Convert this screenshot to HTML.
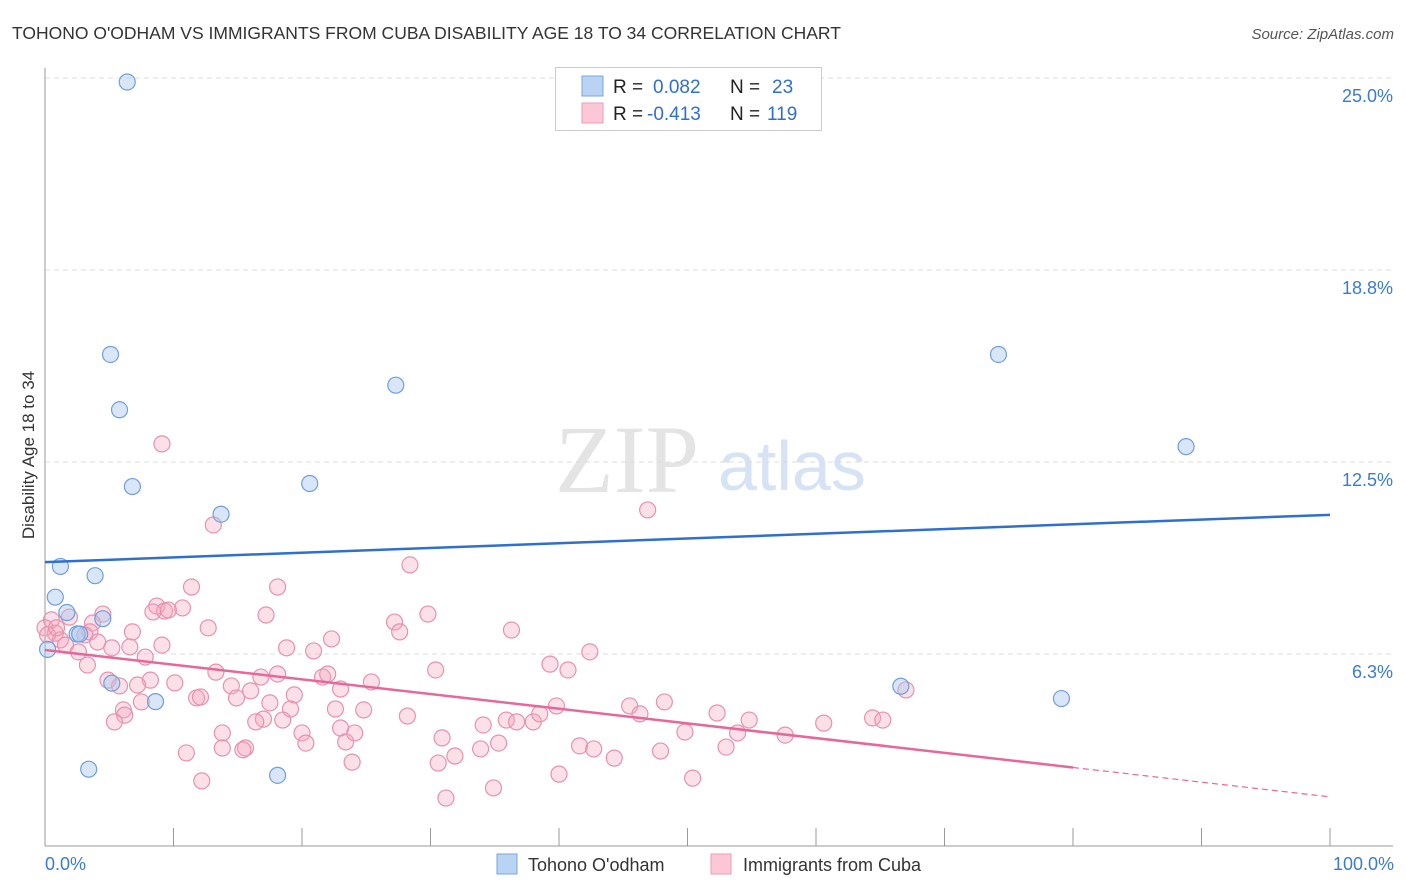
<!DOCTYPE html>
<html><head><meta charset="utf-8"><style>
body{margin:0;background:#fff;font-family:"Liberation Sans",sans-serif;}
svg{display:block}
</style></head><body>
<svg id="chart" width="1406" height="892" viewBox="0 0 1406 892" xmlns="http://www.w3.org/2000/svg">
<text x="12" y="39" font-size="17.5" fill="#333">TOHONO O'ODHAM VS IMMIGRANTS FROM CUBA DISABILITY AGE 18 TO 34 CORRELATION CHART</text>
<text x="1394" y="39" font-size="15" fill="#555" font-style="italic" text-anchor="end">Source: ZipAtlas.com</text>
<g>
<text x="555" y="492" font-size="96" font-family="Liberation Serif,serif" fill="#e4e4e4">ZIP</text>
<text x="718" y="490" font-size="70" fill="#d5e3f5">atlas</text>
</g>
<g id="grid"></g>
<g id="axes"></g>
<text x="34" y="455" font-size="17" fill="#333" text-anchor="middle" transform="rotate(-90 34 455)">Disability Age 18 to 34</text>
<text x="45" y="870" font-size="18" fill="#3a7bd5">0.0%</text>
<text x="1394" y="870" font-size="18" fill="#3a7bd5" text-anchor="end">100.0%</text>
<g id="pink"></g>
<g id="blue"></g>
<g id="lines"></g>
<g>
<rect x="555.5" y="67.5" width="266" height="63" fill="#fff" stroke="#ccc"/>
<rect x="582" y="76" width="21" height="20" fill="#b9d3f4" stroke="#7aa6de"/>
<rect x="582" y="103" width="21" height="20" fill="#fcc7d6" stroke="#ee9db7"/>
<text x="613" y="93" font-size="19" fill="#222">R =</text>
<text x="653" y="93" font-size="19" fill="#2f6fd0">0.082</text>
<text x="730" y="93" font-size="19" fill="#222">N =</text>
<text x="772" y="93" font-size="19" fill="#2f6fd0">23</text>
<text x="613" y="120" font-size="19" fill="#222">R =</text>
<text x="647" y="120" font-size="19" fill="#2f6fd0">-0.413</text>
<text x="730" y="120" font-size="19" fill="#222">N =</text>
<text x="767" y="120" font-size="19" fill="#2f6fd0">119</text>
</g>
<g>
<rect x="497" y="854" width="20" height="20" fill="#b9d3f4" stroke="#7aa6de"/>
<text x="528" y="871" font-size="18" fill="#333">Tohono O'odham</text>
<rect x="711" y="854" width="20" height="20" fill="#fcc7d6" stroke="#ee9db7"/>
<text x="743" y="871" font-size="18" fill="#333">Immigrants from Cuba</text>
</g>
</svg>
<script>
const yTicks=[6.25,12.5,18.75,25];
const yTickLabels=["6.3%","12.5%","18.8%","25.0%"];
const xTicks=[0,10,20,30,40,50,60,70,80,90,100];
const blueX=[6.4,5.1,5.8,6.8,13.7,20.6,27.3,74.2,88.8,1.2,3.9,0.8,1.7,4.5,2.5,2.7,0.2,5.2,8.6,3.4,18.1,66.6,79.1];
const blueY=[24.87,16.0,14.2,11.7,10.8,11.8,15.0,16.0,13.0,9.1,8.8,8.1,7.6,7.4,6.9,6.9,6.4,5.3,4.7,2.5,2.3,5.2,4.8];
const pinkX=[9.1,13.1,46.9,28.4,18.1,11.4,0.5,1.9,4.5,8.7,9.3,10.7,8.4,9.6,17.2,27.2,29.8,36.3,27.6,12.7,6.8,3.7,3.5,0.8,1.2,1.6,3.1,4.1,5.2,6.6,7.8,2.6,3.3,9.1,22.3,18.8,20.9,42.4,39.3,40.7,30.4,13.3,16.8,18.1,21.6,22.0,23.0,25.4,14.5,16.0,10.1,8.2,7.2,4.9,5.8,11.8,12.1,14.9,19.4,17.5,19.1,22.6,24.8,6.1,6.2,5.4,7.5,28.2,17.0,16.4,18.5,35.9,36.7,38.0,38.5,39.8,34.1,45.5,46.3,48.2,52.3,54.8,53.9,49.8,60.6,64.4,65.2,67.0,13.8,13.8,15.6,15.4,20.0,20.3,23.0,23.4,24.1,30.9,35.3,33.9,31.9,30.6,41.6,42.7,44.3,47.9,53.0,57.6,11.0,12.2,23.9,40.0,50.4,34.9,31.2,0,0.2,0.9];
const pinkY=[13.09,10.45,10.94,9.15,8.43,8.43,7.36,7.45,7.55,7.81,7.65,7.75,7.62,7.68,7.52,7.29,7.55,7.03,6.97,7.10,6.97,7.26,6.97,6.93,6.71,6.54,6.87,6.64,6.45,6.48,6.15,6.32,5.89,6.54,6.74,6.45,6.35,6.32,5.92,5.73,5.73,5.66,5.50,5.60,5.50,5.60,5.11,5.34,5.21,5.05,5.31,5.40,5.24,5.40,5.21,4.82,4.85,4.82,4.92,4.66,4.46,4.46,4.43,4.43,4.26,4.04,4.69,4.23,4.13,4.04,4.10,4.10,4.04,4.04,4.30,4.56,3.94,4.56,4.30,4.69,4.33,4.10,3.68,3.71,4.00,4.17,4.10,5.08,3.68,3.19,3.19,3.13,3.68,3.35,3.84,3.39,3.68,3.52,3.35,3.16,2.93,2.70,3.26,3.16,2.86,3.09,3.22,3.61,3.03,2.12,2.73,2.34,2.21,1.89,1.56,7.10,6.87,7.10];
const blueTrend=[9.24,10.78];
const pinkTrend=[6.38,1.6];
const pinkSolidEnd=80;

const NS="http://www.w3.org/2000/svg";
const xs=v=>45+v*12.85;
const ys=v=>846-v*30.72;
function mk(tag,attrs,parent){const e=document.createElementNS(NS,tag);for(const k in attrs)e.setAttribute(k,attrs[k]);parent.appendChild(e);return e;}
const grid=document.getElementById('grid'),axes=document.getElementById('axes');
yTicks.forEach((t,i)=>{
  const l=mk('line',{x1:45,x2:1393,y1:ys(t),y2:ys(t),stroke:'#ddd','stroke-dasharray':'5,4'},grid);
  
  
  const tx=mk('text',{x:1393,y:ys(t)+24,'font-size':18,fill:'#3a7bd5','text-anchor':'end'},grid);
  tx.textContent=yTickLabels[i];
  
  
});
let a=mk('line',{x1:45,x2:45,y1:68,y2:846,stroke:'#999'},axes);


a=mk('line',{x1:45,x2:1393,y1:846,y2:846,stroke:'#999'},axes);


xTicks.forEach(t=>{
  const l=mk('line',{x1:xs(t),x2:xs(t),y1:828,y2:846,stroke:'#999'},axes);
  
  
});
const pg=document.getElementById('pink');
pinkX.forEach((x,i)=>{
  const c=mk('circle',{cx:xs(x),cy:ys(pinkY[i]),r:8,fill:'rgba(244,166,190,0.35)',stroke:'#e891ae','stroke-width':1.2},pg);
  
  
});
const bg=document.getElementById('blue');
blueX.forEach((x,i)=>{
  const c=mk('circle',{cx:xs(x),cy:ys(blueY[i]),r:8,fill:'rgba(168,200,240,0.45)',stroke:'#6f9fdc','stroke-width':1.2},bg);
  
  
});
const lg=document.getElementById('lines');
let ln=mk('line',{x1:xs(0),y1:ys(blueTrend[0]),x2:xs(100),y2:ys(blueTrend[1]),stroke:'#2f6fd0','stroke-width':2.5},lg);


const pm=pinkTrend[0]+(pinkTrend[1]-pinkTrend[0])*pinkSolidEnd/100;
ln=mk('line',{x1:xs(0),y1:ys(pinkTrend[0]),x2:xs(pinkSolidEnd),y2:ys(pm),stroke:'#e8679a','stroke-width':2.5},lg);


ln=mk('line',{x1:xs(pinkSolidEnd),y1:ys(pm),x2:xs(100),y2:ys(pinkTrend[1]),stroke:'#e8679a','stroke-width':1.2,'stroke-dasharray':'6,4'},lg);


</script>
</body></html>
